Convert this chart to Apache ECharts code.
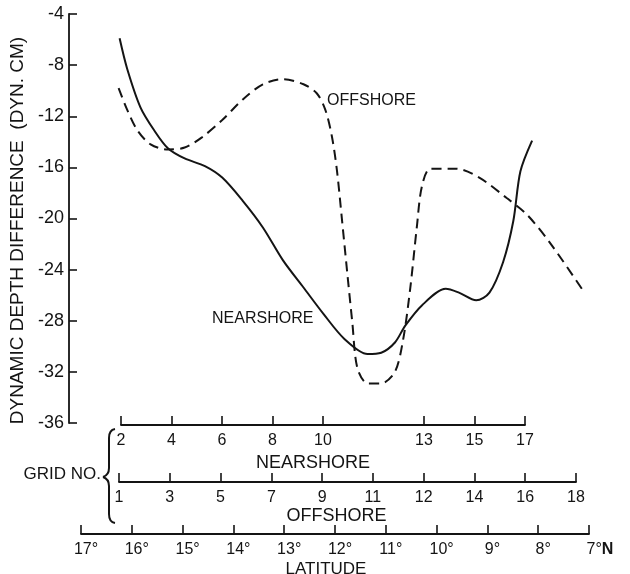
<!DOCTYPE html>
<html><head><meta charset="utf-8">
<script src="https://cdn.jsdelivr.net/npm/echarts/dist/echarts.min.js"></script>
<style>html,body{margin:0;padding:0;background:#fff}#c{width:630px;height:574px}</style>
</head><body><div id="c"></div>
<script>
// Nearshore (solid) curve: latitude (°N) and dynamic depth difference (dyn. cm)
const nearshoreLat = [16.24,16.09,15.83,15.56,15.29,14.96,14.56,14.22,13.82,13.42,13.02,12.62,12.22,11.82,11.36,11.09,10.82,10.62,10.29,9.82,9.56,9.22,8.96,8.69,8.49,8.35,8.12];
const nearshoreVal = [-5.9,-8.3,-11.3,-13.1,-14.5,-15.3,-15.9,-16.8,-18.6,-20.7,-23.3,-25.4,-27.5,-29.4,-30.6,-30.5,-29.7,-28.4,-26.8,-25.5,-25.8,-26.4,-25.8,-23.4,-20.2,-16.3,-13.9];
// Offshore (dashed) curve
const offshoreLat = [16.26,16.09,15.89,15.63,15.29,14.96,14.62,14.22,13.82,13.42,13.02,12.62,12.36,12.19,12.06,11.96,11.86,11.76,11.66,11.56,11.36,11.09,10.82,10.66,10.52,10.39,10.29,10.12,9.62,9.16,8.62,8.22,7.75,7.09];
const offshoreVal = [-9.8,-11.5,-13.1,-14.2,-14.6,-14.45,-13.65,-12.3,-10.7,-9.5,-9.1,-9.5,-10.2,-11.5,-13.6,-16.3,-20.2,-24.2,-28.1,-31.7,-32.9,-32.9,-32.0,-29.5,-25.5,-20.7,-17.5,-16.1,-16.1,-16.8,-18.4,-19.7,-22.0,-25.8];
// Axis tick labels
const nearshoreGrid = ['2','4','6','8','10','','13','15','17'];
const offshoreGrid = ['1','3','5','7','9','11','12','14','16','18'];
const latMin = 7, latMax = 17;
const yMin = -36, yMax = -4, yStep = 4;

const FONT = "'Liberation Sans', Arial, sans-serif";
const INK = '#141414';

const chart = echarts.init(document.getElementById('c'), null, {renderer: 'canvas'});
const zip = (a, b) => a.map((v, i) => [v, b[i]]);
const hiddenY = (g) => ({gridIndex: g, type: 'value', show: false, min: 0, max: 1});
const tickStyle = {show: true, inside: true, length: 9, lineStyle: {color: INK, width: 1.6}};
const lineStyle = {show: true, lineStyle: {color: INK, width: 1.8}};
const braceStyle = {stroke: INK, lineWidth: 2, fill: null};

chart.setOption({
  backgroundColor: '#ffffff',
  animation: false,
  grid: [
    {left: 81, right: 41, top: 14, bottom: 151, outerBoundsMode: 'none', containLabel: false},
    {left: 121, right: 105, top: 405, height: 20, outerBoundsMode: 'none', containLabel: false},
    {left: 119, right: 54, top: 462, height: 20, outerBoundsMode: 'none', containLabel: false},
    {left: 81, right: 41, top: 514, height: 20, outerBoundsMode: 'none', containLabel: false}
  ],
  xAxis: [
    {gridIndex: 0, type: 'value', min: latMin, max: latMax, inverse: true, show: false},
    {gridIndex: 1, type: 'category', data: nearshoreGrid, boundaryGap: false, position: 'bottom',
      axisLine: lineStyle,
      axisTick: Object.assign({}, tickStyle, {interval: (i, v) => v !== ''}),
      axisLabel: {interval: 0, margin: 8, fontSize: 16, color: INK, fontFamily: FONT},
      name: 'NEARSHORE', nameLocation: 'middle', nameGap: 29,
      nameTextStyle: {fontSize: 18, color: INK, fontFamily: FONT, padding: [0, 20, 0, 0]}},
    {gridIndex: 2, type: 'category', data: offshoreGrid, boundaryGap: false, position: 'bottom',
      axisLine: lineStyle,
      axisTick: Object.assign({}, tickStyle, {interval: 0}),
      axisLabel: {interval: 0, margin: 8, fontSize: 16, color: INK, fontFamily: FONT},
      name: 'OFFSHORE', nameLocation: 'middle', nameGap: 25,
      nameTextStyle: {fontSize: 18, color: INK, fontFamily: FONT, padding: [0, 22, 0, 0]}},
    {gridIndex: 3, type: 'value', min: latMin, max: latMax, interval: 1, inverse: true, position: 'bottom',
      axisLine: lineStyle, axisTick: tickStyle, splitLine: {show: false},
      axisLabel: {margin: 8, fontSize: 16, color: INK, fontFamily: FONT,
        formatter: v => v === latMin ? '{n|' + v + '°}{b|N}' : '{d|' + v + '°}',
        rich: {d: {fontSize: 16, color: INK, fontFamily: FONT, padding: [0, 0, 0, 10]},
               n: {fontSize: 16, color: INK, fontFamily: FONT, padding: [0, 0, 0, 22]},
               b: {fontSize: 16, color: INK, fontFamily: FONT, fontWeight: 'bold'}}},
      name: 'LATITUDE', nameLocation: 'middle', nameGap: 27,
      nameTextStyle: {fontSize: 17, color: INK, fontFamily: FONT, padding: [0, 18, 0, 0]}}
  ],
  yAxis: [
    {gridIndex: 0, type: 'value', min: yMin, max: yMax, interval: yStep, offset: 12,
      axisLine: {show: true, lineStyle: {color: INK, width: 1.8}},
      axisTick: {show: true, inside: true, length: 8, lineStyle: {color: INK, width: 1.6}},
      splitLine: {show: false},
      axisLabel: {margin: 5, fontSize: 18, color: INK, fontFamily: FONT},
      name: 'DYNAMIC DEPTH DIFFERENCE  (DYN. CM)', nameLocation: 'middle', nameGap: 33,
      nameTextStyle: {fontSize: 19, color: INK, fontFamily: FONT, padding: [0, 24, 0, 0]}},
    hiddenY(1), hiddenY(2), hiddenY(3)
  ],
  series: [
    {name: 'Nearshore', type: 'line', xAxisIndex: 0, yAxisIndex: 0, smooth: 0.3, showSymbol: false,
      data: zip(nearshoreLat, nearshoreVal), lineStyle: {color: INK, width: 2}},
    {name: 'Offshore', type: 'line', xAxisIndex: 0, yAxisIndex: 0, smooth: 0.3, showSymbol: false,
      data: zip(offshoreLat, offshoreVal), lineStyle: {color: INK, width: 2, type: [10, 6]}}
  ],
  graphic: [
    {type: 'text', x: 327, y: 93, style: {text: 'OFFSHORE', font: '16px ' + FONT, fill: INK}},
    {type: 'text', x: 212, y: 311, style: {text: 'NEARSHORE', font: '16px ' + FONT, fill: INK}},
    {type: 'text', x: 101, y: 466, style: {text: 'GRID NO.', font: '17px ' + FONT, fill: INK, align: 'right'}},
    {type: 'bezierCurve', shape: {x1: 115, y1: 429, cpx1: 109, cpy1: 430, x2: 109, y2: 438}, style: braceStyle},
    {type: 'line', shape: {x1: 109, y1: 438, x2: 109, y2: 468}, style: braceStyle},
    {type: 'bezierCurve', shape: {x1: 109, y1: 468, cpx1: 109, cpy1: 475, x2: 103, y2: 477}, style: braceStyle},
    {type: 'bezierCurve', shape: {x1: 103, y1: 477, cpx1: 109, cpy1: 479, x2: 109, y2: 486}, style: braceStyle},
    {type: 'line', shape: {x1: 109, y1: 486, x2: 109, y2: 514}, style: braceStyle},
    {type: 'bezierCurve', shape: {x1: 109, y1: 514, cpx1: 109, cpy1: 522, x2: 115, y2: 523}, style: braceStyle}
  ]
});
</script></body></html>
